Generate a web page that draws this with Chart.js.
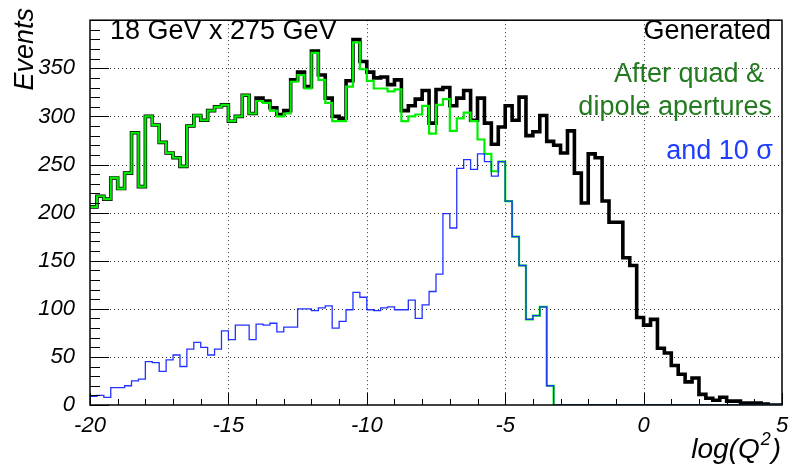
<!DOCTYPE html>
<html><head><meta charset="utf-8">
<script src="https://cdn.jsdelivr.net/npm/chart.js@4.4.1/dist/chart.umd.min.js"></script>
<style>html,body{margin:0;padding:0;background:#fff;}</style>
</head><body>
<canvas id="c" width="789" height="465" style="width:789px;height:465px;display:block"></canvas>
<script>
// ---- data (histogram of log(Q^2), 100 bins of 0.25 from -20 to 5) ----
const binEdges = Array.from({length: 101}, (_, i) => -20 + 0.25 * i);
const generated = [
  206, 217, 214, 236, 225, 241, 283, 227, 300, 291, 273, 262, 257, 248, 290, 301, 296, 306, 310, 312, 295, 300, 322, 303,
  319, 316, 309, 302, 306, 338, 346, 331, 368, 343, 319, 300, 298, 337, 380, 357, 346, 340, 341, 333, 338, 306, 311, 318,
  327, 293, 328, 330, 311, 319, 327, 296, 319, 293, 271, 289,
  311, 296, 320, 280, 284, 301, 274, 270, 262, 285, 241, 210, 261, 257, 212, 190, 190, 153,
  145, 91, 83, 89, 59, 54, 41, 32, 24, 28, 11, 7, 5, 8, 4, 4, 2, 2, 2, 1, 0, 0
];
const afterApertures = [
  206, 217, 214, 236, 225, 241, 283, 227, 300, 291, 273, 262, 257, 248, 290, 301, 296, 306, 310, 312, 295, 300, 322, 303,
  316, 314, 306, 300, 303, 336, 343, 329, 366, 338, 314, 295, 295, 331, 377, 349, 337, 329, 329, 326, 328, 295, 300, 302,
  311, 282, 312, 318, 285, 298, 304, 295, 276, 261, 243, 253, 212, 175, 145, 89, 93, 102, 20,
  0, 0, 0, 0, 0, 0, 0, 0, 0, 0, 0, 0, 0, 0, 0, 0, 0, 0, 0, 0, 0, 0, 0, 0, 0, 0, 0, 0, 0, 0, 0, 0, 0
];
const after10Sigma = [
  9, 10, 8, 18, 18, 20, 25, 27, 45, 44, 35, 47, 52, 40, 58, 65, 60, 52, 58, 77,
  68, 83, 83, 68, 84, 83, 85, 76, 81, 81, 100, 100, 98, 101, 103, 80, 87, 99, 117, 112,
  99, 98, 101, 102, 99, 99, 109, 90, 104, 118, 136, 199, 184, 246, 255, 245, 261, 253, 238, 253,
  212, 175, 145, 89, 93, 102, 20,
  0, 0, 0, 0, 0, 0, 0, 0, 0, 0, 0, 0, 0, 0, 0, 0, 0, 0, 0, 0, 0, 0, 0, 0, 0, 0, 0, 0, 0, 0, 0, 0, 0
];
const xTickValues = [-20, -15, -10, -5, 0, 5];
const yTickValues = [0, 50, 100, 150, 200, 250, 300, 350];
const xGridValues = [-15, -10, -5, 0];
const yGridValues = [50, 100, 150, 200, 250, 300, 350];

function toSteps(values) {
  const pts = values.map((v, i) => ({x: binEdges[i], y: v}));
  pts.push({x: binEdges[values.length], y: values[values.length - 1]});
  return pts;
}

const FONT = '"Liberation Sans", Arial, sans-serif';

const rootStyle = {
  id: 'rootStyle',
  beforeDatasetsDraw(chart) {
    const {ctx, chartArea: a, scales: {x, y}} = chart;
    ctx.save();
    ctx.strokeStyle = '#333';
    ctx.lineWidth = 1;
    ctx.setLineDash([1, 3]);
    xGridValues.forEach(v => {
      const px = Math.round(x.getPixelForValue(v)) + 0.5;
      ctx.beginPath(); ctx.moveTo(px, a.top); ctx.lineTo(px, a.bottom); ctx.stroke();
    });
    yGridValues.forEach(v => {
      const py = Math.round(y.getPixelForValue(v)) + 0.5;
      ctx.beginPath(); ctx.moveTo(a.left, py); ctx.lineTo(a.right, py); ctx.stroke();
    });
    ctx.restore();
  },
  afterDatasetsDraw(chart) {
    const {ctx, chartArea: a, scales: {x, y}} = chart;
    ctx.save();
    // frame
    ctx.strokeStyle = '#000';
    ctx.lineWidth = 1.5;
    ctx.strokeRect(a.left, a.top, a.right - a.left, a.bottom - a.top);
    // y ticks
    ctx.lineWidth = 1;
    for (let v = 0; v <= 400; v += 10) {
      const py = Math.round(y.getPixelForValue(v)) + 0.5;
      const len = v % 50 === 0 ? 19 : 10;
      ctx.beginPath(); ctx.moveTo(a.left, py); ctx.lineTo(a.left + len, py); ctx.stroke();
    }
    // x ticks
    for (let v = -20; v <= 5; v += 1) {
      const px = Math.round(x.getPixelForValue(v)) + 0.5;
      const len = v % 5 === 0 ? 12 : 6;
      ctx.beginPath(); ctx.moveTo(px, a.bottom); ctx.lineTo(px, a.bottom - len); ctx.stroke();
    }
    // texts
    ctx.fillStyle = '#000';
    ctx.font = '27px ' + FONT;
    ctx.textBaseline = 'alphabetic';
    ctx.textAlign = 'left';
    ctx.fillText('18 GeV x 275 GeV', 110, 39);
    ctx.textAlign = 'right';
    ctx.fillText('Generated', 771, 39);
    ctx.fillStyle = '#237a1f';
    ctx.fillText('After quad &', 764, 82);
    ctx.fillText('dipole apertures', 772, 115);
    ctx.fillStyle = '#1f3dff';
    ctx.fillText('and 10 \u03C3', 773, 159);
    // x-axis title: log(Q^2) with superscript
    ctx.fillStyle = '#000';
    const mainFont = 'italic 28px ' + FONT;
    const supFont = 'italic 18px ' + FONT;
    ctx.textAlign = 'left';
    ctx.font = mainFont;
    const wClose = ctx.measureText(')').width;
    const wMain = ctx.measureText('log(Q').width;
    ctx.font = supFont;
    const wSup = ctx.measureText('2').width;
    let tx = 781 - wClose - wSup - 2 - wMain;
    ctx.font = mainFont;
    ctx.fillText('log(Q', tx, 458);
    tx += wMain + 1;
    ctx.font = supFont;
    ctx.fillText('2', tx, 445);
    tx += wSup + 1;
    ctx.font = mainFont;
    ctx.fillText(')', tx, 458);
    // y-axis title
    ctx.font = 'italic 27px ' + FONT;
    ctx.translate(33, 8);
    ctx.rotate(-Math.PI / 2);
    ctx.textAlign = 'right';
    ctx.fillText('Events', 0, 0);
    ctx.restore();
  }
};

const common = {pointRadius: 0, pointHoverRadius: 0, fill: false, stepped: true, tension: 0,
  borderJoinStyle: 'miter', borderCapStyle: 'butt'};

new Chart(document.getElementById('c'), {
  type: 'line',
  data: {
    datasets: [
      Object.assign({label: 'and 10 sigma', data: toSteps(after10Sigma), borderColor: '#2233ff', borderWidth: 1.3, order: 0}, common),
      Object.assign({label: 'After quad & dipole apertures', data: toSteps(afterApertures), borderColor: '#00ee00', borderWidth: 2.2, order: 1}, common),
      Object.assign({label: 'Generated', data: toSteps(generated), borderColor: '#000000', borderWidth: 3.6, order: 2}, common)
    ]
  },
  options: {
    responsive: false,
    devicePixelRatio: 1,
    animation: false,
    events: [],
    layout: {padding: {top: 9, right: 7, left: 0, bottom: 0}},
    plugins: {legend: {display: false}, tooltip: {enabled: false}},
    scales: {
      x: {
        type: 'linear', min: -20, max: 5,
        afterFit: s => { s.height = 60; },
        afterBuildTicks: s => { s.ticks = xTickValues.map(v => ({value: v})); },
        grid: {display: false}, border: {display: false},
        ticks: {autoSkip: false, maxRotation: 0, padding: 0, color: '#000',
          font: {family: FONT, size: 22, style: 'italic'}}
      },
      y: {
        type: 'linear', min: 0, max: 400,
        afterFit: s => { s.width = 90; },
        afterBuildTicks: s => { s.ticks = yTickValues.map(v => ({value: v})); },
        grid: {display: false}, border: {display: false},
        ticks: {padding: 7, color: '#000',
          font: {family: FONT, size: 22, style: 'italic'}}
      }
    }
  },
  plugins: [rootStyle]
});
</script>
</body></html>
